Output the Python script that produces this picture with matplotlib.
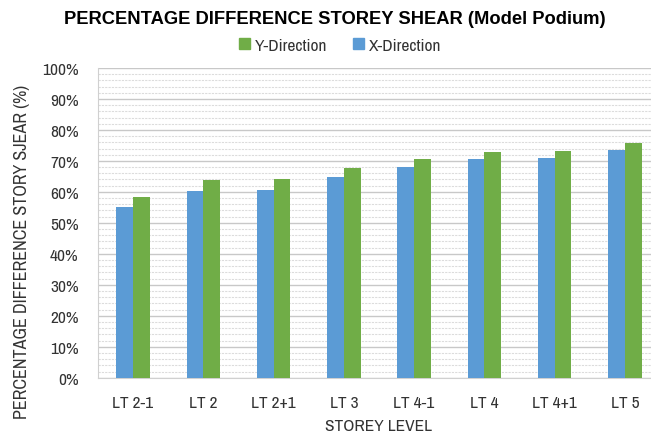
import numpy as np
import matplotlib.pyplot as plt
from matplotlib.ticker import MultipleLocator, PercentFormatter
from matplotlib.patches import Patch

# data
levels = ["LT 2-1", "LT 2", "LT 2+1", "LT 3", "LT 4-1", "LT 4", "LT 4+1", "LT 5"]
x_dir = [55.1, 60.3, 60.6, 64.9, 68.1, 70.5, 70.9, 73.6]
y_dir = [58.4, 63.8, 64.1, 67.7, 70.5, 73.0, 73.3, 75.8]

plt.rcParams['font.family'] = ['Archivo Narrow', 'Liberation Sans', 'DejaVu Sans']

fig = plt.figure(figsize=(6.51, 4.39), dpi=100)
# plot area runs a little past the right edge, like the original
ax = fig.add_axes([0.1505, 0.137, 0.8633, 0.706])

blue = "#5B9BD5"
green = "#70AD47"
w = 0.238
pos = np.arange(len(levels))
ax.bar(pos - w / 2, x_dir, w, color=blue, zorder=3)
ax.bar(pos + w / 2, y_dir, w, color=green, zorder=3)

ax.set_xlim(-0.5, len(levels) - 0.5)
ax.set_ylim(0, 100)
ax.yaxis.set_major_locator(MultipleLocator(10))
ax.yaxis.set_minor_locator(MultipleLocator(2))
ax.yaxis.set_major_formatter(PercentFormatter(decimals=0))
ax.grid(which='major', axis='y', color='#c8c8c8', linewidth=1.0, zorder=0)
ax.grid(which='minor', axis='y', color='#dcdcdc', linewidth=0.8, linestyle=(0, (2, 1)), zorder=0)
ax.set_axisbelow(True)

ax.set_xticks(pos)
ax.set_xticklabels(levels)
ax.tick_params(axis='both', which='both', length=0, labelsize=12.5, colors='#333333')
ax.tick_params(axis='x', pad=12)
ax.tick_params(axis='y', pad=14)

for s in ['top', 'right']:
    ax.spines[s].set_visible(False)
ax.spines['bottom'].set_color('#d0d0d0')
ax.spines['left'].set_color('#d0d0d0')

ax.set_xlabel("STOREY LEVEL", fontsize=12.5, color='#333333', labelpad=6)
fig.text(22 / 651, 1 - 252 / 439, "PERCENTAGE DIFFERENCE STORY SJEAR (%)", rotation=90,
         ha='center', va='center', fontsize=13, color='#333333')

fig.text(335 / 651, 0.955, "PERCENTAGE DIFFERENCE STOREY SHEAR (Model Podium)",
         ha='center', va='center', fontsize=13.2, fontweight='bold', color='black',
         family=['Liberation Sans', 'DejaVu Sans'])

handles = [Patch(color=green, label='Y-Direction'), Patch(color=blue, label='X-Direction')]
fig.legend(handles=handles, loc='center', bbox_to_anchor=(0.523, 0.895), ncol=2, frameon=False,
           fontsize=12.5, handlelength=0.6, handleheight=0.6, columnspacing=1.5, handletextpad=0.3,
           labelcolor='#333333')

fig.savefig("out.png", dpi=100)
